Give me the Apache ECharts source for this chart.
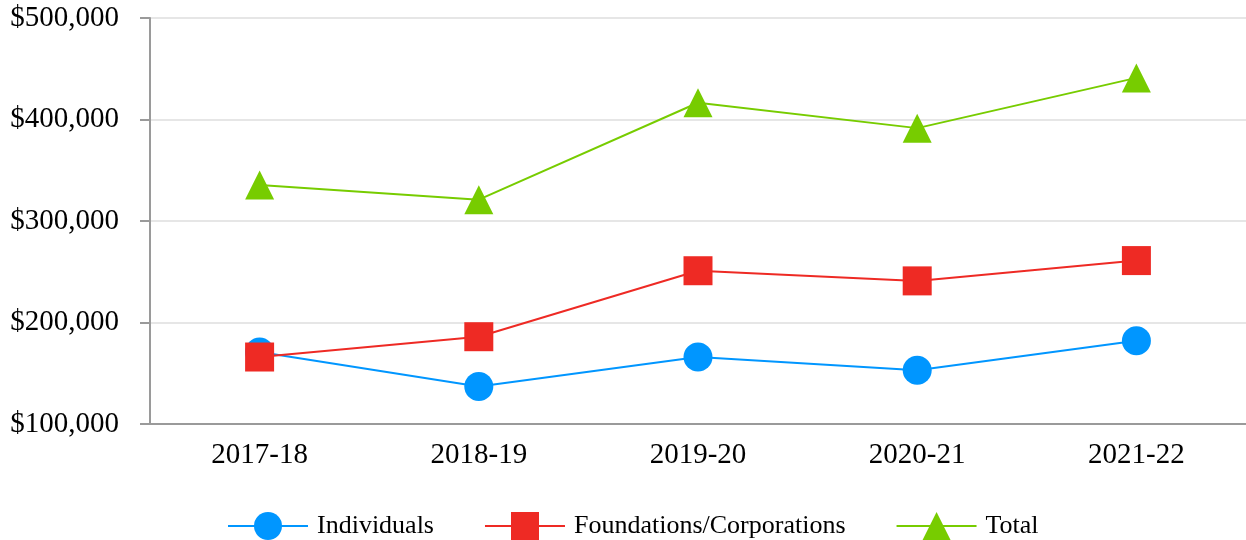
<!DOCTYPE html>
<html>
<head>
<meta charset="utf-8">
<script src="https://cdn.jsdelivr.net/npm/echarts@6/dist/echarts.min.js"></script>
<style>
  html, body { margin: 0; padding: 0; background: #fff; }
  #main { width: 1246px; height: 540px; }
</style>
</head>
<body>
<div id="main"></div>
<script>
// data
const years = ['2017-18', '2018-19', '2019-20', '2020-21', '2021-22'];
const individuals = [171000, 137000, 166000, 153000, 182000];
const foundations = [166000, 186000, 251000, 241000, 261000];
const totals = [335500, 321000, 416500, 391500, 441000];
const yTicks = [100000, 200000, 300000, 400000, 500000];

const font = 'Liberation Serif';
const axisGray = '#9a9a9a';

var chartDom = document.getElementById('main');
var myChart = echarts.init(chartDom);

const makeSeries = (name, data, color, symbol) => {
    return {
        name: name,
        type: 'line',
        data: data,
        symbol: symbol,
        symbolSize: 29,
        showAllSymbol: true,
        lineStyle: { color: color, width: 2 },
        itemStyle: { color: color }
    };
};

var option = {
    animation: false,
    grid: {
        left: 150,
        right: -4,
        top: 18,
        bottom: 116,
        containLabel: false
    },
    xAxis: {
        type: 'category',
        data: years,
        boundaryGap: true,
        axisLine: { lineStyle: { color: axisGray, width: 2 } },
        axisTick: { alignWithLabel: true, length: 10, lineStyle: { color: axisGray, width: 2 } },
        axisLabel: { color: '#000', fontFamily: font, fontSize: 29, margin: 17 }
    },
    yAxis: {
        type: 'value',
        min: yTicks[0],
        max: yTicks[yTicks.length - 1],
        interval: 100000,
        axisLine: { show: true, lineStyle: { color: axisGray, width: 2 } },
        axisTick: { show: true, length: 10, lineStyle: { color: axisGray, width: 2 } },
        splitLine: { lineStyle: { color: '#e6e6e6', width: 2 } },
        axisLabel: {
            color: '#000',
            fontFamily: font,
            fontSize: 29,
            margin: 31,
            formatter: (v) => '$' + v.toLocaleString('en-US')
        }
    },
    legend: {
        bottom: -5,
        left: 222,
        itemWidth: 80,
        itemHeight: 35,
        itemGap: 50,
        textStyle: { color: '#000', fontFamily: font, fontSize: 26, padding: [0, 0, 0, 4] },
        data: ['Individuals', 'Foundations/Corporations', 'Total']
    },
    series: [
        makeSeries('Individuals', individuals, '#0096ff', 'circle'),
        makeSeries('Foundations/Corporations', foundations, '#ee2a24', 'rect'),
        makeSeries('Total', totals, '#77cc00', 'triangle')
    ]
};

myChart.setOption(option);
</script>
</body>
</html>
